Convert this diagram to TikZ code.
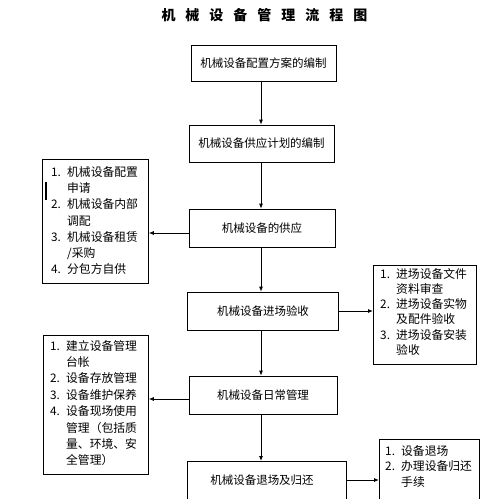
\documentclass[tikz,border=0pt]{standalone}
\usepackage{fontspec}
\setmainfont{Noto Sans CJK SC}
\usetikzlibrary{arrows.meta}
\newcommand{\itm}[1]{\makebox[16pt][l]{#1}}
\begin{document}
\begin{tikzpicture}[x=1pt,y=-1pt,
  mainbox/.style={draw,line width=0.8pt,minimum height=37pt,inner sep=0pt,font=\fontsize{11.5}{13}\selectfont},
  sidebox/.style={draw,line width=0.8pt,anchor=north west,inner sep=0pt,align=left},
  arr/.style={line width=0.8pt,-{Latex[length=5pt,width=4pt]}}]
\clip (0,0) rectangle (486,499);
\fill[white] (0,0) rectangle (486,499);
% title
\node[font=\fontsize{14}{16}\selectfont\bfseries] (title) at (264.5,15)
 {机\hspace{10pt}械\hspace{10pt}设\hspace{10pt}备\hspace{10pt}管\hspace{10pt}理\hspace{10pt}流\hspace{10pt}程\hspace{10pt}图};
% main boxes
\node[mainbox,minimum width=145pt,minimum height=36pt] (b1) at (263.5,63) {机械设备配置方案的编制};
\node[mainbox,minimum width=145pt] (b2) at (261.5,143.5) {机械设备供应计划的编制};
\node[mainbox,minimum width=146pt,minimum height=38pt] (b3) at (262,228) {机械设备的供应};
\node[mainbox,minimum width=151pt,minimum height=38pt] (b4) at (263,311) {机械设备进场验收};
\node[mainbox,minimum width=148pt,minimum height=38pt] (b5) at (263,395) {机械设备日常管理};
\node[mainbox,minimum width=159pt,minimum height=50pt,anchor=north,text depth=0pt] (b6) at (266.5,461) {};
\node[font=\fontsize{11.5}{13}\selectfont] (b6t) at (262,480) {机械设备退场及归还};
% side boxes
\node[sidebox,minimum width=106pt,minimum height=124pt] (l1) at (42,159) {};
\node[anchor=north west,align=left,inner sep=0pt,font=\fontsize{11.8}{16.3}\selectfont] (l1t) at (51,166)
 {\itm{1.}机械设备配置\\ \itm{}申请\\ \itm{2.}机械设备内部\\ \itm{}调配\\ \itm{3.}机械设备租赁\\ \itm{}/采购\\ \itm{4.}分包方自供};
\fill (45,182) rectangle (47,200);
\node[sidebox,minimum width=103pt,minimum height=99pt] (r1) at (373,265) {};
\node[anchor=north west,align=left,inner sep=0pt,font=\fontsize{11.8}{15.2}\selectfont] (r1t) at (380,268)
 {\itm{1.}进场设备文件\\ \itm{}资料审查\\ \itm{2.}进场设备实物\\ \itm{}及配件验收\\ \itm{3.}进场设备安装\\ \itm{}验收};
\node[sidebox,minimum width=105pt,minimum height=139pt] (l2) at (43,335) {};
\node[anchor=north west,align=left,inner sep=0pt,font=\fontsize{11.8}{16.4}\selectfont] (l2t) at (50,340)
 {\itm{1.}建立设备管理\\ \itm{}台帐\\ \itm{2.}设备存放管理\\ \itm{3.}设备维护保养\\ \itm{4.}设备现场使用\\ \itm{}管理（包括质\\ \itm{}量、环境、安\\ \itm{}全管理）};
\node[sidebox,minimum width=100pt,minimum height=70pt] (r2) at (379,439) {};
\node[anchor=north west,align=left,inner sep=0pt,font=\fontsize{11.8}{15.5}\selectfont] (r2t) at (385,445)
 {\itm{1.}设备退场\\ \itm{2.}办理设备归还\\ \itm{}手续};
% connectors
\draw[arr] (b1.south -| 261,0) -- (b2.north -| 261,0);
\draw[arr] (b2.south -| 261,0) -- (b3.north -| 261,0);
\draw[arr] (b3.south -| 261,0) -- (b4.north -| 261,0);
\draw[arr] (b4.south -| 261,0) -- (b5.north -| 261,0);
\draw[arr] (b5.south -| 261,0) -- (b6.north -| 261,0);
\draw[arr] ([yshift=-5pt]b3.west) -- ([yshift=-5pt]b3.west -| l1.east);
\draw[arr] (b4.east) -- (b4.east -| r1.west);
\draw[arr] ([yshift=-4pt]b5.west) -- ([yshift=-4pt]b5.west -| l2.east);
\draw[arr] (b6t.east -| b6.east) -- (b6t.east -| r2.west);
\end{tikzpicture}
\end{document}
